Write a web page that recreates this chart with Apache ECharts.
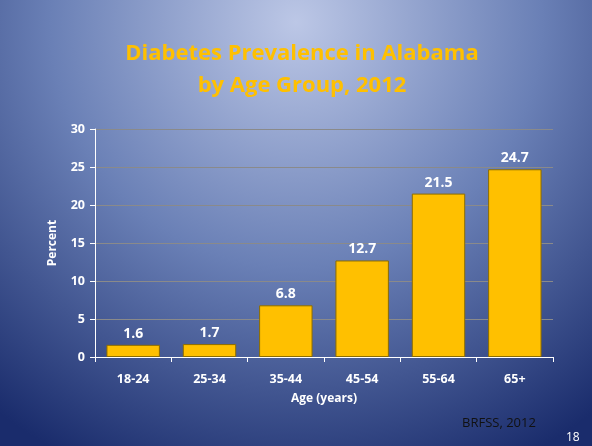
<!DOCTYPE html>
<html><head><meta charset="utf-8">
<script src="https://cdn.jsdelivr.net/npm/echarts@6/dist/echarts.min.js"></script>
<style>html,body{margin:0;padding:0;}#c{width:592px;height:446px;}</style>
</head><body><div id="c"></div>
<script>
const categories = ['18-24','25-34','35-44','45-54','55-64','65+'];
const values = [1.6, 1.7, 6.8, 12.7, 21.5, 24.7];
const yTicks = [0, 5, 10, 15, 20, 25, 30];
const titleLines = ['Diabetes Prevalence in Alabama', 'by Age Group, 2012'];
const sourceText = 'BRFSS, 2012';
const pageNum = '18';

const chart = echarts.init(document.getElementById('c'));
const fontF = '"Open Sans", "Noto Sans", sans-serif';
chart.setOption({
  backgroundColor: {
    type: 'radial', x: 0.5, y: 0.05, r: 1.1,
    colorStops: [
      {offset: 0, color: '#bcc7e6'},
      {offset: 0.5, color: '#6a80b6'},
      {offset: 1, color: '#1a2c6c'}
    ]
  },
  title: [{
    text: titleLines.join('\n'),
    left: 297, textAlign: 'center', top: 33,
    textStyle: {color: '#FFC000', fontSize: 22, fontWeight: 'bold', fontFamily: fontF, lineHeight: 32}
  }],
  graphic: [
    {type: 'text', left: 462, top: 417, style: {text: sourceText, fill: '#111', font: '13px ' + fontF}},
    {type: 'text', left: 566, top: 432, style: {text: pageNum, fill: '#fff', font: '12px ' + fontF}}
  ],
  grid: {left: 95, right: 39, top: 129, bottom: 89},
  xAxis: {
    type: 'category', data: categories,
    name: 'Age (years)', nameLocation: 'middle', nameGap: 36,
    nameTextStyle: {color: '#fff', fontWeight: 'bold', fontSize: 12, fontFamily: fontF},
    axisLine: {lineStyle: {color: '#fff', width: 1}},
    axisTick: {show: true, length: 5, lineStyle: {color: '#fff'}},
    axisLabel: {color: '#fff', fontWeight: 'bold', fontSize: 12.5, fontFamily: fontF, margin: 16}
  },
  yAxis: {
    type: 'value', min: 0, max: 30, interval: 5,
    name: 'Percent', nameLocation: 'middle', nameGap: 36, nameRotate: 90,
    nameTextStyle: {color: '#fff', fontWeight: 'bold', fontSize: 12, fontFamily: fontF},
    axisLine: {show: true, lineStyle: {color: '#fff', width: 1}},
    axisTick: {show: true, length: 5, lineStyle: {color: '#fff'}},
    axisLabel: {color: '#fff', fontWeight: 'bold', fontSize: 12.5, fontFamily: fontF, margin: 10,
      formatter: v => yTicks.includes(v) ? String(v) : ''},
    splitLine: {lineStyle: {color: '#8a8a8a', width: 1}}
  },
  series: [{
    type: 'bar', data: values, barCategoryGap: '30%',
    itemStyle: {color: '#FFC000', borderColor: '#8c6c00', borderWidth: 1},
    label: {show: true, position: 'top', distance: 4, color: '#fff', fontWeight: 'bold', fontSize: 14, fontFamily: fontF},
    animation: false
  }],
  animation: false
});
</script></body></html>
